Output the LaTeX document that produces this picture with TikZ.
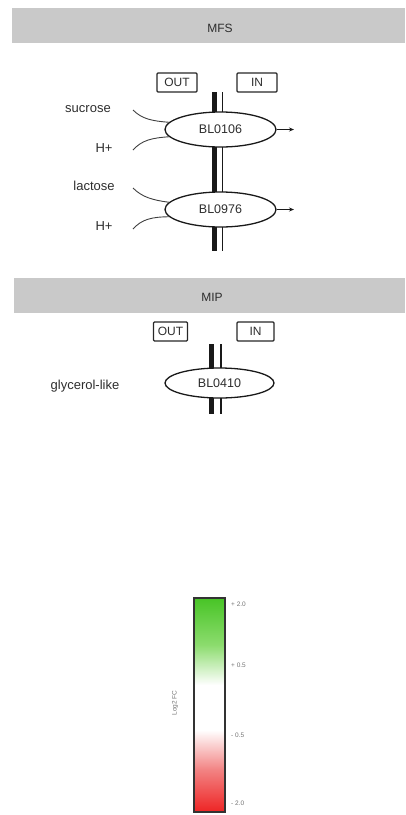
\documentclass[tikz,border=0pt]{standalone}
\usepackage{fontspec}
\setmainfont{Liberation Sans}
\usetikzlibrary{shapes.geometric,arrows.meta}
\definecolor{bargray}{RGB}{201,201,201}
\definecolor{txt}{RGB}{45,45,45}
\definecolor{fcgreen}{RGB}{72,196,38}
\definecolor{fcgreenmid}{RGB}{140,220,110}
\definecolor{fcred}{RGB}{238,36,36}
\definecolor{fcredmid}{RGB}{242,130,130}
\tikzset{
  hdrbar/.style={fill=bargray, draw=none, minimum height=35pt, inner sep=0pt},
  hdrtext/.style={font=\fontsize{12}{14}\selectfont, text=txt},
  sidebox/.style={draw=black!85, line width=1.3pt, rounded corners=1pt, minimum width=40pt, minimum height=19pt, inner sep=0pt, font=\fontsize{12}{14}\selectfont, text=txt},
  transporter/.style={ellipse, draw=black!90, line width=1.3pt, fill=white, minimum width=111pt, minimum height=35pt, inner sep=0pt, font=\fontsize{12.5}{14}\selectfont, text=txt},
  substrate/.style={font=\fontsize{13}{15}\selectfont, text=txt, anchor=base, inner sep=0pt},
  flux/.style={draw=black!75, line width=0.9pt},
  outflux/.style={draw=black!90, line width=1pt, -{Stealth[length=5pt,width=4pt]}},
  thickmem/.style={line width=5pt, black!90},
  thinmem/.style={line width=1.6pt, black!90},
  ticklab/.style={font=\fontsize{6.5}{8}\selectfont, text=black!55, anchor=west, inner sep=0pt}
}
\begin{document}
\begin{tikzpicture}[x=1pt,y=-1pt]
\useasboundingbox (0,0) rectangle (405,815);

% ---------- MFS ----------
\node[hdrbar, minimum width=393pt] (mfsbar) at (208.5,25.5) {};
\node[hdrtext] (mfs) at (220,28) {MFS};
\node[sidebox] (out1) at (177,82.5) {OUT};
\node[sidebox] (in1) at (257,82.5) {IN};

\coordinate (m1top) at (214.5,92);
\coordinate (m1bot) at (214.5,251);
\coordinate (m1ttop) at (222.5,92);
\coordinate (m1tbot) at (222.5,251);
\draw[thickmem] (m1top) -- (m1bot);
\draw[thinmem] (m1ttop) -- (m1tbot);

\node[transporter] (bl0106) at (220.5,129.5) {BL0106};
\node[transporter] (bl0976) at (220.5,209.5) {BL0976};

\node[substrate] (sucrose) at (88,112) {sucrose};
\node[substrate] (h1) at (104,152) {H+};
\node[substrate] (lactose) at (94,190) {lactose};
\node[substrate] (h2) at (104,230) {H+};

\coordinate (s1) at (133,110);
\coordinate (s2) at (133,150);
\coordinate (s3) at (133,188);
\coordinate (s4) at (133,229);
\draw[flux] (s1) .. controls (142,119) and (152,121) .. (bl0106.172);
\draw[flux] (s2) .. controls (142,140) and (152,138) .. (bl0106.188);
\draw[flux] (s3) .. controls (142,197) and (152,200) .. (bl0976.172);
\draw[flux] (s4) .. controls (142,219) and (152,217) .. (bl0976.188);

\coordinate (o1) at (294,129.5);
\coordinate (o2) at (294,209.5);
\draw[outflux] (bl0106.east) -- (o1);
\draw[outflux] (bl0976.east) -- (o2);

% ---------- MIP ----------
\node[hdrbar, minimum width=391pt] (mipbar) at (209.5,295) {};
\node[hdrtext] (mip) at (212,297) {MIP};
\node[sidebox, minimum width=34pt] (out2) at (170.5,331.5) {OUT};
\node[sidebox, minimum width=37pt] (in2) at (255.5,331.5) {IN};

\coordinate (m2top) at (211,344);
\coordinate (m2bot) at (211,414);
\coordinate (m2ttop) at (221,344);
\coordinate (m2tbot) at (221,414);
\draw[thickmem] (m2top) -- (m2bot);
\draw[thinmem] (m2ttop) -- (m2tbot);

\node[transporter, minimum width=109pt, minimum height=30pt] (bl0410) at (219.5,383) {BL0410};
\node[substrate] (glyc) at (85,389) {glycerol-like};

% ---------- colour scale ----------
\shade[top color=fcgreen, bottom color=fcgreenmid] (194,598) rectangle (225,645);
\shade[top color=fcgreenmid, bottom color=white] (194,645) rectangle (225,685);
\fill[white] (194,685) rectangle (225,730);
\shade[top color=white, bottom color=fcredmid] (194,730) rectangle (225,770);
\shade[top color=fcredmid, bottom color=fcred] (194,770) rectangle (225,812);
\node[draw=black!80, line width=1.6pt, minimum width=31pt, minimum height=214pt, inner sep=0pt] (scale) at (209.5,705) {};

\node[ticklab] (t1) at (231,604) {+ 2.0};
\node[ticklab] (t2) at (231,665) {+ 0.5};
\node[ticklab] (t3) at (231,735) {- 0.5};
\node[ticklab] (t4) at (231,803) {- 2.0};
\node[font=\fontsize{6.5}{8}\selectfont, text=black!55, rotate=90, inner sep=0pt] (fc) at (175,703) {Log2 FC};
\end{tikzpicture}
\end{document}
